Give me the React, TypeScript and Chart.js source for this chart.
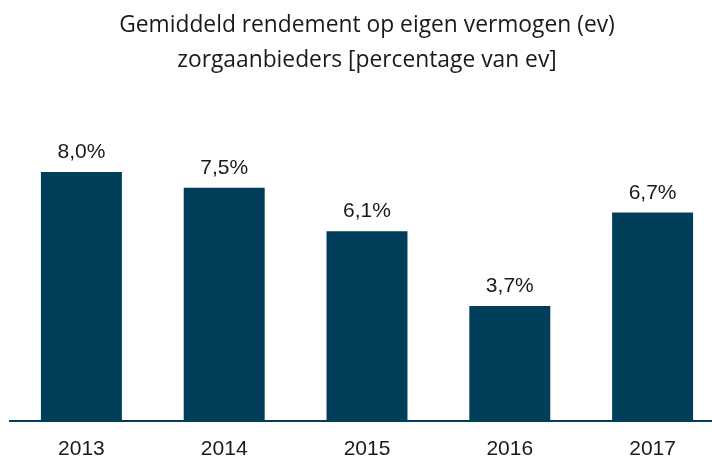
import React, { useEffect, useRef } from "react";
import { Chart, registerables } from "chart.js";

Chart.register(...registerables);

const titleLines = [
  "Gemiddeld rendement op eigen vermogen (ev)",
  "zorgaanbieders [percentage van ev]",
];
const years = ["2013", "2014", "2015", "2016", "2017"];
const values = [8.0, 7.5, 6.1, 3.7, 6.7];
const barColor = "#003e5a";

const labelPlugin = {
  id: "valueLabels",
  afterDatasetsDraw(chart: any) {
    const { ctx } = chart;
    const meta = chart.getDatasetMeta(0);
    ctx.save();
    ctx.fillStyle = "#1a1a1a";
    ctx.font = "21px 'Liberation Sans', Arial, sans-serif";
    ctx.textAlign = "center";
    ctx.textBaseline = "alphabetic";
    meta.data.forEach((bar: any, i: number) => {
      const txt = values[i].toFixed(1).replace(".", ",") + "%";
      ctx.fillText(txt, bar.x, bar.y - 14);
    });
    ctx.restore();
  },
};

export default function App() {
  const ref = useRef<HTMLCanvasElement>(null);
  useEffect(() => {
    document.body.style.margin = "0";
    document.body.style.overflow = "hidden";
    const chart = new Chart(ref.current!, {
      type: "bar",
      data: {
        labels: years,
        datasets: [
          {
            data: values,
            backgroundColor: barColor,
            categoryPercentage: 1,
            barPercentage: 0.567,
          },
        ],
      },
      options: {
        animation: false,
        responsive: false,
        layout: { padding: { left: 10, right: 0, top: 0, bottom: 0 } },
        plugins: {
          legend: { display: false },
          tooltip: { enabled: false },
          title: {
            display: true,
            text: titleLines,
            color: "#1a1a1a",
            font: { family: "'Open Sans', sans-serif", size: 22.8, weight: "normal", lineHeight: 1.535 },
            padding: { top: 8, bottom: 63 },
          },
        },
        scales: {
          x: {
            grid: { display: false, drawTicks: false },
            border: { display: true, color: barColor, width: 2 },
            ticks: {
              color: "#1a1a1a",
              padding: 16,
              font: { family: "'Liberation Sans', Arial, sans-serif", size: 21 },
            },
            afterFit: (scale: any) => {
              scale.height = 38;
            },
          },
          y: {
            display: false,
            min: 0,
            max: 9,
          },
        },
      },
      plugins: [labelPlugin],
    });
    return () => chart.destroy();
  }, []);
  return (
    <div style={{ position: "fixed", left: 0, top: 0, width: 712, height: 459, overflow: "hidden", background: "#fff" }}>
      <canvas ref={ref} width={724} height={459} style={{ width: 724, height: 459, display: "block" }} />
    </div>
  );
}
